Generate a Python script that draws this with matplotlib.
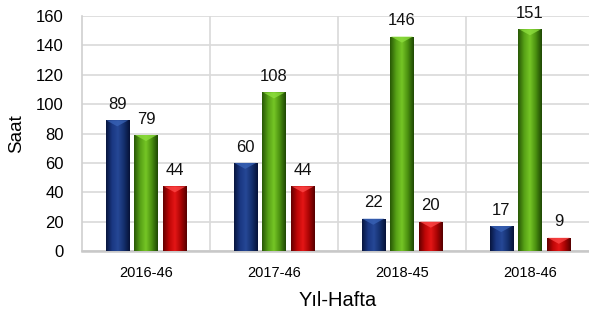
import numpy as np
import matplotlib
matplotlib.use("Agg")
import matplotlib.pyplot as plt
from matplotlib.colors import LinearSegmentedColormap

plt.rcParams['font.family'] = ['Liberation Sans', 'DejaVu Sans']

categories = ["2016-46", "2017-46", "2018-45", "2018-46"]
blue_vals = [89, 60, 22, 17]
green_vals = [79, 108, 146, 151]
red_vals = [44, 44, 20, 9]

series = [
    (blue_vals, ["#08163f", "#1a3782", "#2648966", "#14306e", "#061238"], "#3a64b8"),
    (green_vals, ["#285806", "#56a016", "#76c626", "#4a9010", "#1f4804"], "#8fe040"),
    (red_vals, ["#640000", "#be0606", "#e41616", "#aa0404", "#560000"], "#ff4a4a"),
]
series[0][1][2] = "#264896"

fig = plt.figure(figsize=(5.89, 3.11), dpi=100)
ax = fig.add_axes([82 / 589, 60 / 311, 512 / 589, 235 / 311])

x = np.arange(len(categories))
width = 0.18
step = 0.225
grad = np.linspace(0, 1, 64).reshape(1, -1)
tri = [(-1, 0), (1, 0), (0, -0.55), (-1, 0)]

for i, (vals, cols, hi) in enumerate(series):
    offs = x + (i - 1) * step
    bars = ax.bar(offs, vals, width, color=cols[2], zorder=3)
    cmap = LinearSegmentedColormap.from_list("c%d" % i, cols)
    for b, v in zip(bars, vals):
        im = ax.imshow(grad, cmap=cmap, aspect="auto", zorder=4,
                       extent=[b.get_x(), b.get_x() + b.get_width(), 0, v])
        im.set_clip_path(b)
        cx = b.get_x() + b.get_width() / 2
        ax.scatter(cx, v, marker=tri, s=250, color=hi, edgecolors="none",
                   alpha=0.75, zorder=5)
        ax.annotate(str(v), (cx, v), xytext=(0, 6), textcoords="offset points",
                    ha="center", va="bottom", fontsize=12, color="#111111")

ax.set_xlim(-0.5, 3.5)
ax.set_ylim(0, 160)
ax.set_yticks(range(0, 161, 20))
ax.set_xticks(x)
ax.set_xticklabels(categories, fontsize=10.5)
ax.tick_params(axis="y", labelsize=12, length=0, pad=13)
ax.tick_params(axis="x", length=0, pad=11)

ax.set_xticks(np.arange(0.5, 3.5, 1), minor=True)
ax.tick_params(axis="x", which="minor", length=0)
ax.grid(axis="y", color="#d9d9d9", linewidth=1.2, zorder=0)
ax.grid(axis="x", which="minor", color="#d9d9d9", linewidth=1.2, zorder=0)
ax.grid(axis="x", which="major", visible=False)

for s in ["top", "right"]:
    ax.spines[s].set_visible(False)
ax.spines["left"].set_color("#d0d0d0")
ax.spines["left"].set_linewidth(1.2)
ax.spines["bottom"].set_color("#c8c8c8")
ax.spines["bottom"].set_linewidth(1.8)

ax.set_ylabel("Saat", fontsize=13.5, labelpad=8)
ax.set_xlabel("Yıl-Hafta", fontsize=14.5, labelpad=8)

fig.savefig("out.png", dpi=100)
